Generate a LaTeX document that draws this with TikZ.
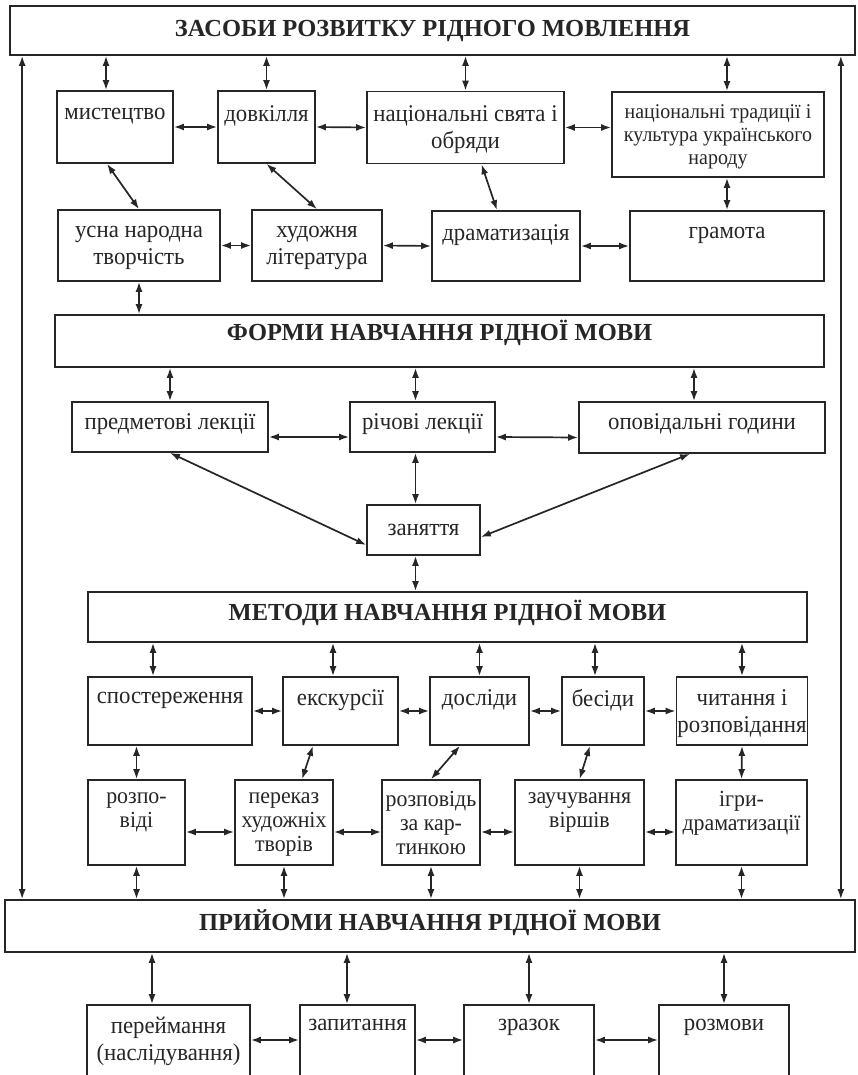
\documentclass[tikz,border=0pt]{standalone}
\usepackage{fontspec}
\setmainfont{Liberation Serif}[FakeStretch=0.95]
\newfontfamily\headfont{Liberation Serif}
\usetikzlibrary{arrows.meta}
\definecolor{ink}{HTML}{262626}
\begin{document}
\begin{tikzpicture}[x=1pt,y=-1pt,
    >={Latex[length=10pt,width=7pt]},
    box/.style={draw=ink,line width=1.7pt,inner sep=1pt,align=center,text=ink,
      font=\fontsize{24}{27}\selectfont,
      execute at begin node=\strut,execute at end node=\strut,text depth=0pt},
    one/.style={box,text depth=14pt},
    tight/.style={box,font=\fontsize{23}{24}\selectfont,text depth=-10pt},
    small/.style={box,font=\fontsize{21}{23}\selectfont},
    head/.style={one,font=\headfont\fontsize{24.5}{28}\selectfont\bfseries,text depth=8.4pt},
    sz/.style 2 args={minimum width=#1pt,minimum height=#2pt},
    link/.style={<->,ink,line width=1.7pt}]
    \useasboundingbox (0,0) rectangle (857,1075);
    \fill[white] (0,0) rectangle (857,1075);
    \clip (0,0) rectangle (857,1075);
    \node[head,sz={845}{49}] (Z) at (432.5,30.5) {ЗАСОБИ РОЗВИТКУ РІДНОГО МОВЛЕННЯ};
    \node[box,sz={116}{72}] (Z1) at (115,127) {мистецтво\\\strut};
    \node[box,sz={97}{72}] (Z2) at (266.5,127) {довкілля\\\strut};
    \node[box,sz={197}{72}] (Z3) at (465.5,127.5) {національні свята і\\обряди};
    \node[small,sz={212}{85}] (Z4) at (718,134.5) {національні традиції і\\культура українського\\народу};
    \node[box,sz={162}{71}] (Z5) at (139,245.5) {усна народна\\творчість};
    \node[box,sz={130}{71}] (Z6) at (317,245.5) {художня\\література};
    \node[box,sz={148}{70}] (Z7) at (506,246) {драматизація\\\strut};
    \node[box,sz={194}{70}] (Z8) at (727,246) {грамота\\\strut};
    \node[head,sz={769}{52},text depth=22pt] (F) at (439.5,341) {ФОРМИ НАВЧАННЯ РІДНОЇ МОВИ};
    \node[one,sz={196}{50}] (F1) at (170,427) {предметові лекції};
    \node[one,sz={145}{50}] (F2) at (422.5,427) {річові лекції};
    \node[one,sz={246}{51}] (F3) at (702,427.5) {оповідальні години};
    \node[one,sz={113}{50},text depth=8pt] (F4) at (423.5,530) {заняття};
    \node[head,sz={719}{50},text depth=14pt] (M) at (447.5,617) {МЕТОДИ НАВЧАННЯ РІДНОЇ МОВИ};
    \node[box,sz={164}{68}] (M1) at (170,711) {спостереження\\\strut};
    \node[box,sz={115}{68}] (M2) at (340.5,711) {екскурсії\\\strut};
    \node[box,sz={99}{68}] (M3) at (479.5,711) {досліди\\\strut};
    \node[box,sz={82}{68}] (M4) at (603,711) {бесіди\\\strut};
    \node[box,sz={130}{68}] (M5) at (742,711) {читання і\\розповідання};
    \node[tight,sz={97}{85}] (M6) at (136.5,822.5) {розпо-\\віді\\\strut};
    \node[tight,sz={98}{85}] (M7) at (284,822.5) {переказ\\художніх\\творів};
    \node[tight,sz={98}{85}] (M8) at (431,822.5) {розповідь\\за кар-\\тинкою};
    \node[tight,sz={129}{85}] (M9) at (579.5,822.5) {заучування\\віршів\\\strut};
    \node[tight,sz={131}{85}] (M10) at (741.5,822.5) {ігри-\\драматизації\\\strut};
    \node[head,sz={850}{52},text depth=12pt] (P) at (430,926) {ПРИЙОМИ НАВЧАННЯ РІДНОЇ МОВИ};
    \node[box,sz={163}{94}] (P1) at (168.5,1052) {переймання\\(наслідування)\\\strut};
    \node[box,sz={115}{94}] (P2) at (357.5,1052) {запитання\\\strut\\\strut};
    \node[box,sz={130}{94}] (P3) at (529,1052) {зразок\\\strut\\\strut};
    \node[box,sz={130}{94}] (P4) at (724,1052) {розмови\\\strut\\\strut};
    \draw[link] ([xshift=13pt]Z.south west) -- ([xshift=13pt]Z.south west |- P.north);
    \draw[link] ([xshift=-15pt]Z.south east) -- ([xshift=-15pt]Z.south east |- P.north);
    \draw[link] ([xshift=-9pt]Z1.north |- Z.south) -- ([xshift=-9pt]Z1.north);
    \draw[link] (Z2.north |- Z.south) -- (Z2.north);
    \draw[link] (Z3.north |- Z.south) -- (Z3.north);
    \draw[link] ([xshift=9pt]Z4.north |- Z.south) -- ([xshift=9pt]Z4.north);
    \draw[link] (Z1.east) -- (Z2.west);
    \draw[link] (Z2.east) -- (Z3.west);
    \draw[link] (Z3.east) -- (Z3.east -| Z4.west);
    \draw[link] ([xshift=-8pt]Z1.south) -- (Z5.north);
    \draw[link] (Z2.south) -- (Z6.north);
    \draw[link] ([xshift=16pt]Z3.south) -- ([xshift=-9pt]Z7.north);
    \draw[link] ([xshift=9pt]Z4.south) -- (Z8.north);
    \draw[link] (Z5.east) -- (Z6.west);
    \draw[link] (Z6.east) -- (Z7.west);
    \draw[link] (Z7.east) -- (Z8.west);
    \draw[link] (Z5.south) -- (Z5.south |- F.north);
    \draw[link] (F1.north |- F.south) -- (F1.north);
    \draw[link] ([xshift=-7pt]F2.north |- F.south) -- ([xshift=-7pt]F2.north);
    \draw[link] ([xshift=-8pt]F3.north |- F.south) -- ([xshift=-8pt]F3.north);
    \draw[link] ([yshift=-10pt]F1.east) -- ([yshift=-10pt]F2.west);
    \draw[link] ([yshift=-10pt]F2.east) -- ([yshift=-10pt]F3.west);
    \draw[link] ([xshift=-7pt]F2.south) -- ([xshift=-7pt]F2.south |- F4.north);
    \draw[link] (F1.south) -- ([yshift=-15pt]F4.west);
    \draw[link] ([xshift=-12pt]F3.south) -- ([yshift=-7pt]F4.east);
    \draw[link] ([xshift=-8pt]F4.south) -- ([xshift=-8pt]F4.south |- M.north);
    \draw[link] ([xshift=-17pt]M1.north |- M.south) -- ([xshift=-17pt]M1.north);
    \draw[link] ([xshift=-7.5pt]M2.north |- M.south) -- ([xshift=-7.5pt]M2.north);
    \draw[link] (M3.north |- M.south) -- (M3.north);
    \draw[link] ([xshift=-8pt]M4.north |- M.south) -- ([xshift=-8pt]M4.north);
    \draw[link] (M5.north |- M.south) -- (M5.north);
    \draw[link] (M1.east) -- (M2.west);
    \draw[link] (M2.east) -- (M3.west);
    \draw[link] (M3.east) -- (M4.west);
    \draw[link] (M4.east) -- (M5.west);
    \draw[link] (M6.north |- M1.south) -- (M6.north);
    \draw[link] ([xshift=-27.5pt]M2.south) -- ([xshift=18pt]M7.north);
    \draw[link] ([xshift=-19.5pt]M3.south) -- (M8.north);
    \draw[link] ([xshift=-13pt]M4.south) -- (M9.north);
    \draw[link] (M5.south) -- (M10.north);
    \draw[link] ([yshift=-9.5pt]M6.east) -- ([yshift=-9.5pt]M7.west);
    \draw[link] ([yshift=-9.5pt]M7.east) -- ([yshift=-9.5pt]M8.west);
    \draw[link] ([yshift=-9.5pt]M8.east) -- ([yshift=-9.5pt]M9.west);
    \draw[link] ([yshift=-9.5pt]M9.east) -- ([yshift=-9.5pt]M10.west);
    \draw[link] (M6.south) -- (M6.south |- P.north);
    \draw[link] (M7.south) -- (M7.south |- P.north);
    \draw[link] (M8.south) -- (M8.south |- P.north);
    \draw[link] (M9.south) -- (M9.south |- P.north);
    \draw[link] (M10.south) -- (M10.south |- P.north);
    \draw[link] ([xshift=-16.5pt]P1.north |- P.south) -- ([xshift=-16.5pt]P1.north);
    \draw[link] ([xshift=-10.5pt]P2.north |- P.south) -- ([xshift=-10.5pt]P2.north);
    \draw[link] (P3.north |- P.south) -- (P3.north);
    \draw[link] (P4.north |- P.south) -- (P4.north);
    \draw[link] ([yshift=12pt]P1.east) -- ([yshift=12pt]P2.west);
    \draw[link] ([yshift=12pt]P2.east) -- ([yshift=12pt]P3.west);
    \draw[link] ([yshift=12pt]P3.east) -- ([yshift=12pt]P4.west);
\end{tikzpicture}
\end{document}
